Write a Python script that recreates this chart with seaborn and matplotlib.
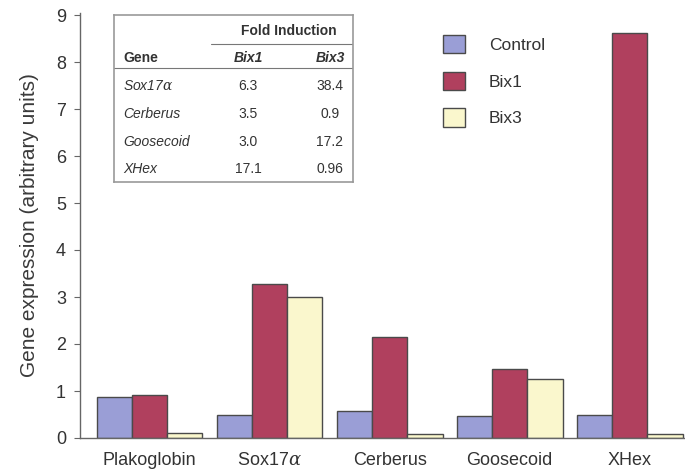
import numpy as np
import pandas as pd
import matplotlib
matplotlib.use("Agg")
import matplotlib.pyplot as plt
import seaborn as sns

# values
genes = ["Plakoglobin", "Sox17$\\alpha$", "Cerberus", "Goosecoid", "XHex"]
control = [0.88, 0.50, 0.58, 0.47, 0.50]
bix1 = [0.91, 3.28, 2.14, 1.47, 8.62]
bix3 = [0.11, 3.01, 0.08, 1.26, 0.08]
conditions = ["Control", "Bix1", "Bix3"]

# inset table (fold induction)
table_genes = ["Sox17$\\alpha$", "Cerberus", "Goosecoid", "XHex"]
fold_bix1 = ["6.3", "3.5", "3.0", "17.1"]
fold_bix3 = ["38.4", "0.9", "17.2", "0.96"]

colors = ["#9a9ed6", "#b0405e", "#faf7cd"]

df = pd.DataFrame({
    "gene": genes * 3,
    "value": control + bix1 + bix3,
    "condition": np.repeat(conditions, len(genes)),
})

sns.set_style("white")
plt.rcParams["font.family"] = ["Liberation Sans", "DejaVu Sans"]
plt.rcParams["mathtext.fontset"] = "custom"
plt.rcParams["mathtext.it"] = "DejaVu Serif:italic"

W, H = 685, 470
fig = plt.figure(figsize=(W / 100, H / 100), dpi=100)
ax = fig.add_axes([80 / W, 32 / H, (W - 80) / W, 9.04 * 47 / H])

sns.barplot(data=df, x="gene", y="value", hue="condition", palette=colors,
            saturation=1, width=0.88, edgecolor="#4a4a4a", linewidth=1.0, ax=ax)

ax.set_xlim(-0.58, 4.46)
ax.set_ylim(0, 9.04)
ax.set_yticks(range(10))
ax.set_xlabel("")
ax.set_ylabel("Gene expression (arbitrary units)", fontsize=15, color="#3a3a3a", labelpad=12)
ax.tick_params(axis="x", length=0, pad=10, labelsize=13, labelcolor="#333333")
ax.tick_params(axis="y", length=4, width=0.8, color="#666666", direction="out",
               pad=6, labelsize=13, labelcolor="#333333", left=True)
for s in ["top", "right"]:
    ax.spines[s].set_visible(False)
for s in ["left", "bottom"]:
    ax.spines[s].set_color("#666666")
    ax.spines[s].set_linewidth(1.0)

handles, labels = ax.get_legend_handles_labels()
ax.legend(handles, labels, loc="upper left", bbox_to_anchor=(443 / W, 1 - 35 / H),
          bbox_transform=fig.transFigure, frameon=False, fontsize=12.5,
          handlelength=1.25, handleheight=1.25, handletextpad=1.4,
          labelspacing=1.05, borderpad=0, borderaxespad=0)
for t in ax.get_legend().get_texts():
    t.set_color("#333333")

# inset table box
tx0, tx1, ty0, ty1 = 114, 353, 15, 182
tab = fig.add_axes([tx0 / W, 1 - ty1 / H, (tx1 - tx0) / W, (ty1 - ty0) / H])
tab.set_xticks([])
tab.set_yticks([])
for s in tab.spines.values():
    s.set_color("#999999")
    s.set_linewidth(1.2)


def fx(px):
    return (px - tx0) / (tx1 - tx0)


def fy(py):
    return 1 - (py - ty0) / (ty1 - ty0)


fs = 10
tc = "#333333"
tab.text(fx(289), fy(31), "Fold Induction", ha="center", va="center", fontsize=fs,
         fontweight="bold", color=tc)
tab.plot([fx(211), 1], [fy(44), fy(44)], color="#777777", lw=0.8)
tab.text(fx(123), fy(58), "Gene", ha="left", va="center", fontsize=fs,
         fontweight="bold", color=tc)
tab.text(fx(248), fy(58), "Bix1", ha="center", va="center", fontsize=fs,
         fontweight="bold", style="italic", color=tc)
tab.text(fx(330), fy(58), "Bix3", ha="center", va="center", fontsize=fs,
         fontweight="bold", style="italic", color=tc)
tab.plot([0, 1], [fy(68), fy(68)], color="#777777", lw=0.8)
row_y = [86, 114, 142, 169]
for g, a, b, y in zip(table_genes, fold_bix1, fold_bix3, row_y):
    tab.text(fx(123), fy(y), g, ha="left", va="center", fontsize=fs,
             style="italic", color=tc)
    tab.text(fx(248), fy(y), a, ha="center", va="center", fontsize=fs, color=tc)
    tab.text(fx(330), fy(y), b, ha="center", va="center", fontsize=fs, color=tc)
tab.set_xlim(0, 1)
tab.set_ylim(0, 1)

fig.savefig("out.png", dpi=100, facecolor="white")
